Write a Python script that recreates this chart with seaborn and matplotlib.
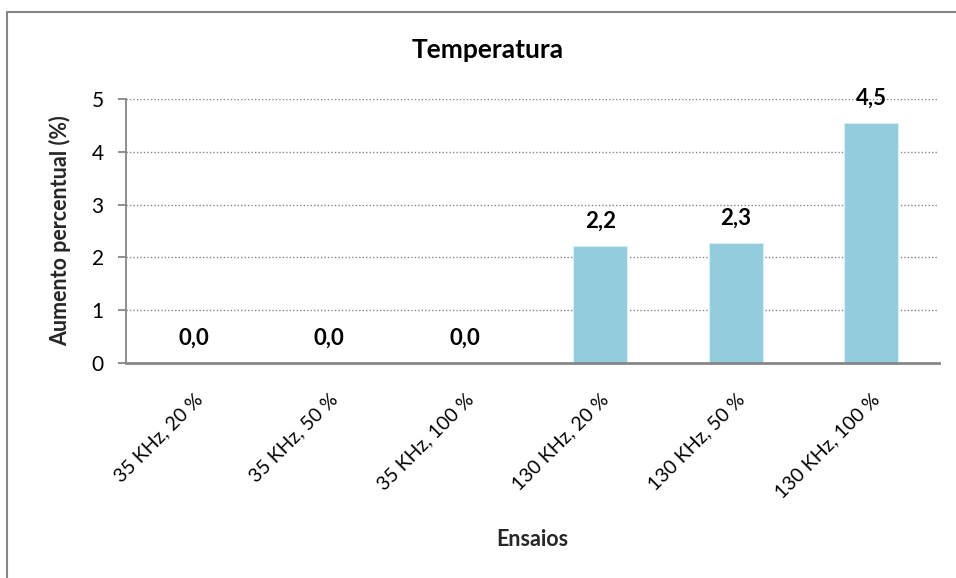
import matplotlib
matplotlib.use("Agg")
import matplotlib.pyplot as plt
from matplotlib.lines import Line2D
import seaborn as sns
import pandas as pd

# Data
ensaios = ["35 KHz, 20 %", "35 KHz, 50 %", "35 KHz, 100 %",
           "130 KHz, 20 %", "130 KHz, 50 %", "130 KHz, 100 %"]
aumento = [0.0, 0.0, 0.0, 2.22, 2.27, 4.54]
yticks = [0, 1, 2, 3, 4, 5]

df = pd.DataFrame({"Ensaios": ensaios, "Aumento": aumento})

sns.set_theme(style="white")
plt.rcParams["font.family"] = ["Lato", "DejaVu Sans"]

fig = plt.figure(figsize=(9.56, 5.78), dpi=100)
ax = fig.add_axes([126 / 956, 1 - 363 / 578, (939 - 126) / 956, (363 - 99) / 578])

sns.barplot(data=df, x="Ensaios", y="Aumento", color="#93CDDD", width=0.4,
            edgecolor="#D6EEF5", linewidth=0.8, saturation=1, ax=ax, zorder=3)

ax.set_ylim(0, 5)
ax.set_xlim(-0.5, len(ensaios) - 0.5)
ax.set_yticks(yticks)
ax.set_yticklabels([str(t) for t in yticks], fontsize=15, color="#000000")
ax.yaxis.grid(True, linestyle=(0, (1, 1.5)), color="#868686", linewidth=1.0, zorder=0)
ax.xaxis.grid(False)

for side in ["top", "right"]:
    ax.spines[side].set_visible(False)
ax.spines["left"].set_color("#868686")
ax.spines["left"].set_linewidth(1.3)
ax.spines["bottom"].set_color("#868686")
ax.spines["bottom"].set_linewidth(2.0)
ax.spines["bottom"].set_zorder(4)

ax.tick_params(axis="y", which="major", left=True, length=6, width=1.3,
               color="#868686", pad=10)
ax.tick_params(axis="x", which="major", bottom=False, pad=14)
ax.set_xticks(range(len(ensaios)))
ax.set_xticklabels(ensaios, rotation=45, ha="right", rotation_mode="anchor",
                   fontsize=14, color="#000000")

# Value labels
for i, v in enumerate(aumento):
    ax.annotate(f"{v:.1f}".replace(".", ","), xy=(i, v), xytext=(0, 18),
                textcoords="offset points", ha="center", va="center",
                fontsize=16, fontweight="bold", color="#000000", zorder=5)

ax.set_xlabel("Ensaios", fontsize=15.5, fontweight="bold", va="center")
ax.xaxis.set_label_coords(0.5, -(540 - 363) / 264)
ax.set_ylabel("Aumento percentual (%)", fontsize=15.5, fontweight="bold", va="center")
ax.yaxis.set_label_coords(-(126 - 60) / 813, 0.5)
fig.text(488 / 956, 1 - 50 / 578, "Temperatura", ha="center", va="center",
         fontsize=19, fontweight="bold", color="#000000")

# Chart frame
fig.add_artist(Line2D([7 / 956, 7 / 956], [0, 1 - 11.5 / 578], transform=fig.transFigure,
                      color="#868686", linewidth=1.5))
fig.add_artist(Line2D([7 / 956, 1], [1 - 11.5 / 578, 1 - 11.5 / 578], transform=fig.transFigure,
                      color="#868686", linewidth=1.5))

fig.savefig("out.png", dpi=100, facecolor="white")
